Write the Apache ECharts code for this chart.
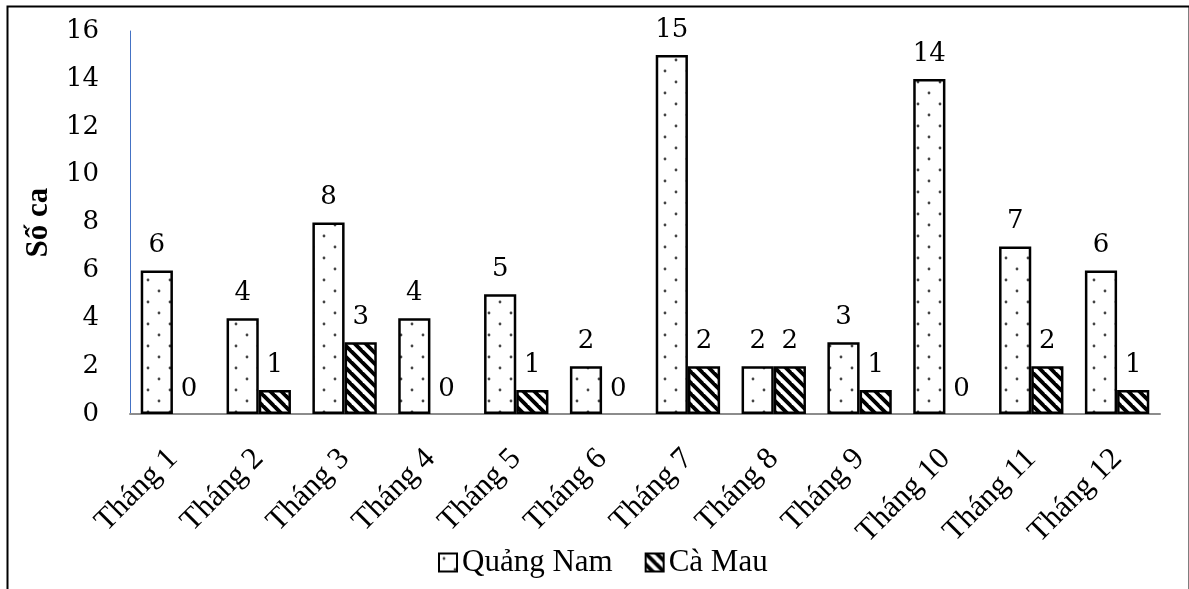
<!DOCTYPE html>
<html>
<head>
<meta charset="utf-8">
<script src="https://cdn.jsdelivr.net/npm/echarts@6/dist/echarts.min.js"></script>
<style>
  html, body { margin: 0; padding: 0; background: #fff; }
  #chart { width: 1189px; height: 589px; }
</style>
</head>
<body>
<div id="chart"></div>
<script>
const categories = ['Tháng 1', 'Tháng 2', 'Tháng 3', 'Tháng 4', 'Tháng 5', 'Tháng 6',
                    'Tháng 7', 'Tháng 8', 'Tháng 9', 'Tháng 10', 'Tháng 11', 'Tháng 12'];
const quangNam = [6, 4, 8, 4, 5, 2, 15, 2, 3, 14, 7, 6];
const caMau = [0, 1, 3, 0, 1, 0, 2, 2, 1, 0, 2, 1];
const seriesNames = ['Quảng Nam', 'Cà Mau'];
const yAxisTitle = 'Số ca';

function dotPattern() {
  const s = 22;
  const c = document.createElement('canvas');
  c.width = s; c.height = s;
  const g = c.getContext('2d');
  g.fillStyle = '#fff';
  g.fillRect(0, 0, s, s);
  g.fillStyle = '#444';
  [[5, 5], [16, 16]].forEach(([x, y]) => {
    g.beginPath(); g.arc(x, y, 1.4, 0, Math.PI * 2); g.fill();
  });
  return c;
}

function stripePattern() {
  const p = 11;
  const c = document.createElement('canvas');
  c.width = p; c.height = p;
  const g = c.getContext('2d');
  g.fillStyle = '#fff';
  g.fillRect(0, 0, p, p);
  g.strokeStyle = '#000';
  g.lineWidth = p * 0.707 * 0.5;
  for (let k = -1; k <= 1; k++) {
    g.beginPath();
    g.moveTo(k * p - 2, -2);
    g.lineTo(k * p + p + 2, p + 2);
    g.stroke();
  }
  return c;
}

// zero-valued bars are not drawn (no outline) as in the reference, but keep their label
function toItems(arr) {
  return arr.map(v => v === 0
    ? { value: v, itemStyle: { borderWidth: 0, borderColor: 'transparent', color: 'transparent' } }
    : v);
}

const chart = echarts.init(document.getElementById('chart'), null, { renderer: 'canvas' });
const numFont = 'DejaVu Serif';
const textFont = 'Liberation Serif';
const labelStyle = { show: true, position: 'top', distance: 12, fontFamily: numFont, fontSize: 26, color: '#000' };

chart.setOption({
  animation: false,
  backgroundColor: '#fff',
  graphic: [{
    type: 'rect',
    left: 5, top: 4,
    shape: { width: 1182, height: 600 },
    style: { fill: 'none', stroke: '#000', lineWidth: 2 },
    silent: true
  }],
  grid: { left: 130, right: 29, top: 31, bottom: 175, containLabel: false },
  legend: {
    data: seriesNames,
    left: 433,
    top: 542,
    itemWidth: 18,
    itemHeight: 18,
    itemGap: 32,
    icon: 'rect',
    textStyle: { fontFamily: textFont, fontSize: 31, color: '#000' }
  },
  xAxis: {
    type: 'category',
    data: categories,
    axisLine: { show: true, lineStyle: { color: '#8c8c8c', width: 2 } },
    axisTick: { show: false },
    axisLabel: {
      interval: 0, rotate: 45, margin: 40,
      fontFamily: textFont, fontSize: 31, color: '#000'
    }
  },
  yAxis: {
    type: 'value',
    min: 0, max: 16, interval: 2,
    name: yAxisTitle,
    nameLocation: 'middle',
    nameGap: 76,
    nameRotate: 90,
    nameTextStyle: { fontFamily: textFont, fontWeight: 'bold', fontSize: 31, color: '#000' },
    axisLine: { show: true, lineStyle: { color: '#4472c4', width: 1 } },
    axisTick: { show: false },
    splitLine: { show: false },
    axisLabel: { margin: 31, fontFamily: numFont, fontSize: 26, color: '#000' }
  },
  series: [
    {
      name: seriesNames[0], type: 'bar', data: toItems(quangNam),
      barGap: '0%', barCategoryGap: '25%',
      itemStyle: { color: { image: dotPattern(), repeat: 'repeat' }, borderColor: '#000', borderWidth: 2.5 },
      label: labelStyle
    },
    {
      name: seriesNames[1], type: 'bar', data: toItems(caMau),
      itemStyle: { color: { image: stripePattern(), repeat: 'repeat' }, borderColor: '#000', borderWidth: 2.5 },
      label: labelStyle
    }
  ]
});
</script>
</body>
</html>
